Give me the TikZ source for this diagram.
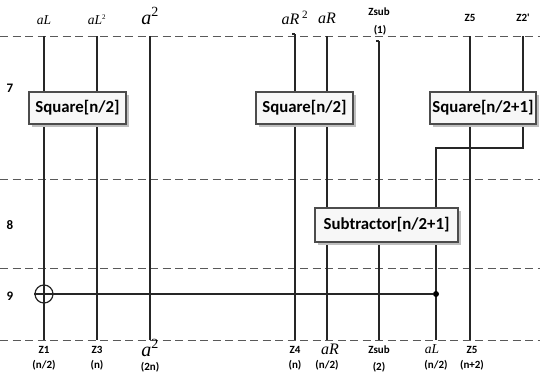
\documentclass[tikz,border=0pt]{standalone}
\usepackage{fontspec}
\setmainfont{Liberation Serif}
\newfontfamily\calfont{Carlito}
\usetikzlibrary{shadows}
\begin{document}
\begin{tikzpicture}[x=1pt,y=-1pt,
  wire/.style={line width=1.2pt, black!85},
  sepline/.style={line width=1pt, black!65, dash pattern=on 8pt off 4.5pt},
  blk/.style={draw=black!70, line width=1.2pt, fill=black!3, inner sep=0pt,
    font=\calfont\bfseries\fontsize{16.8}{18}\selectfont,
    drop shadow={shadow xshift=3pt, shadow yshift=-3pt, fill=black!25, opacity=1}},
  lbl/.style={font=\calfont\bfseries\fontsize{11}{12}\selectfont, inner sep=0pt},
  row/.style={font=\calfont\bfseries\fontsize{13}{14}\selectfont, inner sep=0pt},
  mlbl/.style={font=\fontsize{13.5}{15}\selectfont, inner sep=0pt},
  rlbl/.style={font=\fontsize{16}{18}\selectfont, inner sep=0pt},
  blbl/.style={font=\fontsize{20}{22}\selectfont, inner sep=0pt},
  xorc/.style={circle, draw=black!85, line width=1.2pt, minimum size=18pt, inner sep=0pt},
  dotc/.style={circle, fill=black, minimum size=6pt, inner sep=0pt}
]
\useasboundingbox (0,0) rectangle (540,375);

% separators
\coordinate (s1l) at (0,36);   \coordinate (s1r) at (540,36);
\coordinate (s2l) at (0,179);  \coordinate (s2r) at (540,179);
\coordinate (s3l) at (0,268);  \coordinate (s3r) at (540,268);
\coordinate (s4l) at (0,340);  \coordinate (s4r) at (540,340);
\foreach \a/\b in {s1l/s1r,s2l/s2r,s3l/s3r,s4l/s4r} \draw[sepline] (\a) -- (\b);

% row labels
\node[row] (r7) at (10,88) {7};
\node[row] (r8) at (10,225) {8};
\node[row] (r9) at (10,296) {9};

% wire end points
\coordinate (tA) at (44,36);   \coordinate (bA) at (44,340);
\coordinate (tB) at (97,36);   \coordinate (bB) at (97,340);
\coordinate (tC) at (150,36);  \coordinate (bC) at (150,340);
\coordinate (tD) at (295,34);  \coordinate (bD) at (295,340);
\coordinate (tE) at (327,36);  \coordinate (bE) at (327,340);
\coordinate (tF) at (379,41);  \coordinate (bF) at (379,340);
\coordinate (tG) at (470,36);  \coordinate (bG) at (470,340);
\coordinate (tH) at (523,36);  \coordinate (cH) at (523,148);
\coordinate (cI) at (436,148); \coordinate (bI) at (436,340);

\draw[wire] (tA) -- (bA);
\draw[wire] (tB) -- (bB);
\draw[wire] (tC) -- (bC);
\draw[wire] (tD) -- (bD);
\draw[wire] (tE) -- (bE);
\draw[wire] (tF) -- (bF);
\draw[wire] (tG) -- (bG);
\draw[wire] (tH) -- (cH) -- (cI) -- (bI);
\draw[wire] (tF) -- ++(-3,0);
\draw[wire] (tD) -- ++(-3,0);

% xor and junction
\node[xorc] (xr) at (44,294) {};
\node[dotc] (jd) at (436,294) {};
\draw[wire] (xr.west) -- (jd);

% blocks
\node[blk, minimum width=97pt, minimum height=32pt] (sq1) at (77.5,108) {Square[n/2]};
\node[blk, minimum width=97pt, minimum height=32pt] (sq2) at (304.5,108) {Square[n/2]};
\node[blk, minimum width=106pt, minimum height=32pt] (sq3) at (483,108) {Square[n/2+1]};
\node[blk, minimum width=143pt, minimum height=34pt] (sub) at (386.5,225) {Subtractor[n/2+1]};

% top labels
\node[mlbl] (la) at (44,20) {\textit{aL}};
\node[mlbl] (lb) at (97,20) {\textit{aL}\textsuperscript{\scriptsize 2}};
\node[blbl] (lc) at (150,16) {\textit{a}\textsuperscript{2}};
\node[rlbl] (ld) at (295,18) {\textit{aR}\,\textsuperscript{2}};
\node[rlbl] (le) at (327,18) {\textit{aR}};
\node[lbl] (lf) at (379,12) {Zsub};
\node[lbl] (lf2) at (380,30) {(1)};
\node[lbl] (lg) at (470,18) {Z5};
\node[lbl] (lh) at (523,18) {Z2'};

% bottom labels
\node[lbl] (o1) at (44,350) {Z1};
\node[lbl] (o1n) at (44,365) {(n/2)};
\node[lbl] (o2) at (97,350) {Z3};
\node[lbl] (o2n) at (97,365) {(n)};
\node[blbl] (o3) at (150,348) {\textit{a}\textsuperscript{2}};
\node[lbl] (o3n) at (150,367) {(2n)};
\node[lbl] (o4) at (295,350) {Z4};
\node[lbl] (o4n) at (295,365) {(n)};
\node[rlbl] (o5) at (330,349) {\textit{aR}};
\node[lbl] (o5n) at (327,365) {(n/2)};
\node[lbl] (o6) at (379,350) {Zsub};
\node[lbl] (o6n) at (379,367) {(2)};
\node[mlbl] (o7) at (432,349) {\textit{aL}};
\node[lbl] (o7n) at (436,365) {(n/2)};
\node[lbl] (o8) at (472,350) {Z5};
\node[lbl] (o8n) at (472,365) {(n+2)};
\end{tikzpicture}
\end{document}
